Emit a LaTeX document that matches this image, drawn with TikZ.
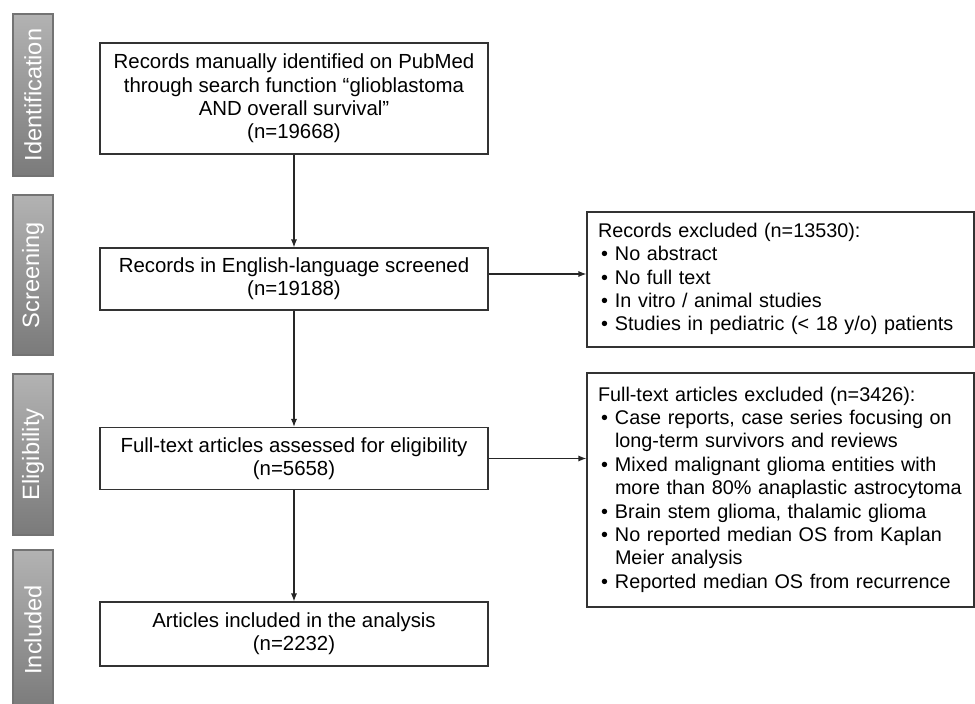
\documentclass[tikz,border=0pt]{standalone}
\usepackage{fontspec}
\setmainfont{Liberation Sans}
\usetikzlibrary{arrows.meta}

\newcommand{\flowfont}{\fontsize{20.4}{23.4}\selectfont}
\newcommand{\exfont}{\fontsize{19.8}{23.4}\selectfont}
\newcommand{\phasefont}{\fontsize{23.6}{26}\selectfont}

\begin{document}
\begin{tikzpicture}[
  x=1pt,y=-1pt,
  >={Latex[length=8pt,width=6pt]},
  flow/.style={->,line width=1.1pt,draw=black!85},
  stepbox/.style={draw=black!80,line width=1.1pt,minimum width=388pt,minimum height=62pt,
    align=center,inner sep=2pt,font=\flowfont},
  exbox/.style={draw=black!80,line width=1.1pt,text width=365pt,inner xsep=11pt,
    align=left,font=\exfont},
  phase/.style={draw=black!55,line width=1.2pt,top color=black!30,bottom color=black!52,
    minimum height=40pt,text=white,font=\phasefont,rotate=90}
]
  \useasboundingbox (0,0) rectangle (975,704);

  % phase bars on the left
  \node[phase,minimum width=162pt] (ident) at (33,95) {Identification};
  \node[phase,minimum width=160pt] (screen) at (33,275) {Screening};
  \node[phase,minimum width=161pt] (elig) at (33,454.5) {Eligibility};
  \node[phase,minimum width=160pt] (incd) at (33,630) {Included};

  % main column
  \node[stepbox,minimum height=111pt] (rec) at (294,98.5)
    {Records manually identified on PubMed\\through search function “glioblastoma\\AND overall survival”\\(n=19668)};
  \node[stepbox] (scrn) at (294,279) {Records in English-language screened\\(n=19188)};
  \node[stepbox] (full) at (294,458.5) {Full-text articles assessed for eligibility\\(n=5658)};
  \node[stepbox,minimum height=64pt] (incl) at (294,634) {Articles included in the analysis\\(n=2232)};

  % exclusion boxes
  \node[exbox,minimum height=135pt] (exrec) at (780.5,279.5) {%
    \begin{tabular}{@{\hspace{3pt}}p{14pt}@{}l@{}}
      \multicolumn{2}{@{}l@{}}{Records excluded (n=13530):}\\
      \textbullet & No abstract\\
      \textbullet & No full text\\
      \textbullet & In vitro / animal studies\\
      \textbullet & Studies in pediatric (< 18 y/o) patients
    \end{tabular}};
  \node[exbox,minimum height=234pt] (exfull) at (780.5,490) {%
    \begin{tabular}{@{\hspace{3pt}}p{14pt}@{}l@{}}
      \multicolumn{2}{@{}l@{}}{Full-text articles excluded (n=3426):}\\
      \textbullet & Case reports, case series focusing on\\
                  & long-term survivors and reviews\\
      \textbullet & Mixed malignant glioma entities with\\
                  & more than 80\% anaplastic astrocytoma\\
      \textbullet & Brain stem glioma, thalamic glioma\\
      \textbullet & No reported median OS from Kaplan\\
                  & Meier analysis\\
      \textbullet & Reported median OS from recurrence
    \end{tabular}};

  % connectors
  \draw[flow] (rec.south) -- (scrn.north);
  \draw[flow] (scrn.south) -- (full.north);
  \draw[flow] (full.south) -- (incl.north);
  \draw[flow] ([yshift=5pt]scrn.east) -- ([yshift=5pt]scrn.east -| exrec.west);
  \draw[flow] (full.east) -- (full.east -| exfull.west);
\end{tikzpicture}
\end{document}
